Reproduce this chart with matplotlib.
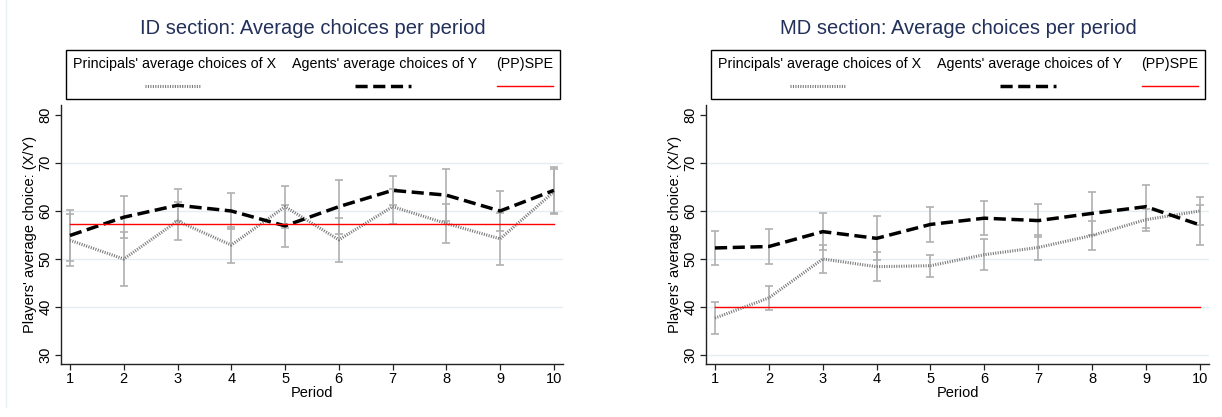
import matplotlib
matplotlib.use("Agg")
import matplotlib.pyplot as plt
from matplotlib.lines import Line2D
from matplotlib.patches import Rectangle

plt.rcParams['font.family'] = ['Liberation Sans', 'DejaVu Sans']

# data
periods = [1, 2, 3, 4, 5, 6, 7, 8, 9, 10]

# ID section
id_x = [53.9, 50.0, 57.9, 52.9, 60.9, 54.0, 60.9, 57.4, 54.2, 64.0]
id_x_err = [5.4, 5.7, 4.0, 3.7, 4.4, 4.6, 3.7, 4.1, 5.4, 4.7]
id_y = [54.9, 58.7, 61.2, 60.0, 56.9, 60.9, 64.3, 63.3, 60.0, 64.3]
id_y_err = [5.4, 4.4, 3.3, 3.8, 4.4, 5.6, 3.0, 5.4, 4.2, 4.8]
id_spe = 57.2

# MD section
md_x = [37.7, 41.9, 50.0, 48.4, 48.6, 50.9, 52.4, 54.9, 58.2, 60.0]
md_x_err = [3.4, 2.5, 2.9, 3.0, 2.3, 3.2, 2.6, 3.1, 2.3, 3.0]
md_y = [52.3, 52.6, 55.7, 54.3, 57.2, 58.5, 58.0, 59.5, 60.9, 57.1]
md_y_err = [3.5, 3.6, 3.9, 4.6, 3.7, 3.5, 3.4, 4.5, 4.5, 4.2]
md_spe = 40.0

titles = ["ID section: Average choices per period",
          "MD section: Average choices per period"]
legend_labels = ["Principals' average choices of X",
                 "Agents' average choices of Y", "(PP)SPE"]
yticks = [30, 40, 50, 60, 70, 80]

W, H = 1222, 417
fig = plt.figure(figsize=(W / 100, H / 100), dpi=100)
fig.patch.set_facecolor("white")

title_col = "#22305a"
grid_col = "#e3edf0"
err_col = "#b0b0b0"
x_style = dict(color="#7a7a7a", lw=2.2, dashes=(0.35, 0.45))
y_style = dict(color="black", lw=2.5, dashes=(3.5, 1.6))
spe_style = dict(color="#ff0000", lw=1.0)

panels = [
    (61, 563, id_x, id_x_err, id_y, id_y_err, id_spe, [40, 50, 60, 70]),
    (706, 1209, md_x, md_x_err, md_y, md_y_err, md_spe, [30, 40, 50, 60, 70]),
]

for i, (px0, px1, xm, xe, ym, ye, spe, grid) in enumerate(panels):
    ax = fig.add_axes([px0 / W, 1 - 364 / H, (px1 - px0) / W, 259 / H])
    ax.set_xlim(0.833, 10.17)
    ax.set_ylim(28.125, 82.08)
    for g in grid:
        ax.axhline(g, color=grid_col, lw=1.0, zorder=0)

    ax.errorbar(periods, xm, yerr=xe, fmt="none", ecolor=err_col,
                elinewidth=1.2, capsize=3, capthick=1.2, zorder=1)
    ax.errorbar(periods, ym, yerr=ye, fmt="none", ecolor=err_col,
                elinewidth=1.2, capsize=3, capthick=1.2, zorder=1)
    ax.plot(periods, xm, zorder=2, **x_style)
    ax.plot(periods, ym, zorder=3, **y_style)
    ax.plot([periods[0], periods[-1]], [spe, spe], zorder=4, **spe_style)

    ax.spines["top"].set_visible(False)
    ax.spines["right"].set_visible(False)
    for s in ("left", "bottom"):
        ax.spines[s].set_linewidth(1.0)
        ax.spines[s].set_color("#222222")
    ax.set_xticks(periods)
    ax.set_yticks(yticks)
    ax.tick_params(axis="both", direction="out", length=4, width=0.9,
                   labelsize=10.5, pad=2, color="#222222")
    plt.setp(ax.get_yticklabels(), rotation=90, va="center")
    ax.set_xlabel("Period", fontsize=10.5, labelpad=0)
    ax.set_ylabel("Players' average choice: (X/Y)", fontsize=10.5)
    ax.yaxis.set_label_coords(-0.048, 0.5)

    # title and Stata-style legend box above the plot
    bx0 = px0 + 5
    bw = 494
    fig.text((bx0 + bw / 2) / W, 1 - 29 / H, titles[i], fontsize=14.5,
             color=title_col, ha="center", va="center")
    fig.patches.append(Rectangle((bx0 / W, 1 - 99 / H), bw / W, 49 / H,
                                 transform=fig.transFigure, fill=False,
                                 edgecolor="black", lw=1.0))
    offsets = [109, 319, 459]
    styles = [x_style, y_style, spe_style]
    for off, lab, st in zip(offsets, legend_labels, styles):
        cx = bx0 + off
        fig.text(cx / W, 1 - 64 / H, lab, fontsize=10.3, ha="center",
                 va="center")
        sx = cx - 2 if st is not spe_style else cx
        fig.lines.append(Line2D([(sx - 28) / W, (sx + 28) / W],
                                [1 - 86 / H, 1 - 86 / H],
                                transform=fig.transFigure, **st))

# faint outer border of the left graph region
fig.lines.append(Line2D([6 / W, 6 / W], [1 - 407 / H, 1.0],
                        transform=fig.transFigure, color="#e8eff2", lw=1.0))

fig.savefig("out.png", dpi=100, facecolor="white")
